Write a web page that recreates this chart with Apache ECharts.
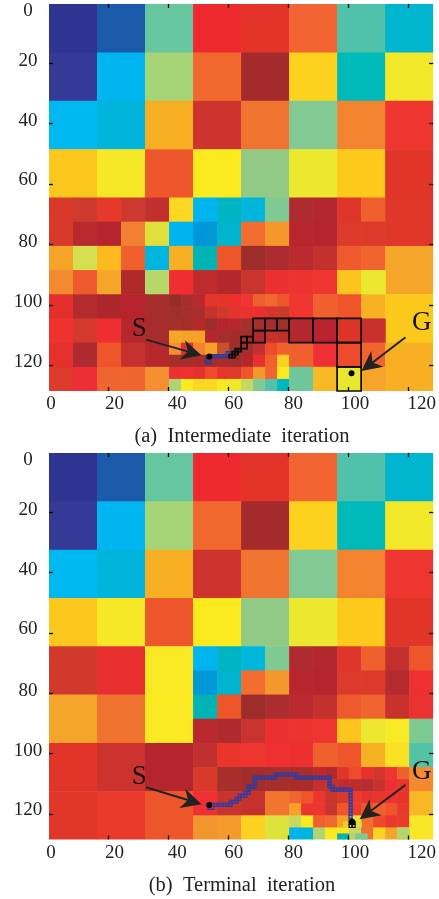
<!DOCTYPE html>
<html><head><meta charset="utf-8">
<style>html,body{margin:0;padding:0;background:#fff}#c{width:439px;height:899px}</style>
<script src="https://cdn.jsdelivr.net/npm/echarts@6/dist/echarts.min.js"></script>
</head><body><div id="c"></div>
<script>
const tickLabels = ['0','20','40','60','80','100','120'];
const tickValues = [20,40,60,80,100,120];
const xLabelAnchors = [1.16,22.35,43.2,62.1,81.96,102.5,124.7];
const yLabelAnchors = [2.8,19.4,39.1,58.8,79.2,99.1,118.9];
const captions = ['(a)  Intermediate  iteration','(b)  Terminal  iteration'];

// shared coarse rows: [y, size, startX, colours]
const rowsShared = [
 [0,16,0,['#2f3392','#1b5aa8','#65c6a0','#ee2a2e','#e43329','#f26532','#50c2aa','#00b5cd']],
 [16,16,0,['#353a97','#00b5f0','#a6d578','#f1682f','#a52a2b','#fdd21c','#00b9b9','#f2e82a']],
 [32,16,0,['#00b8f0','#00b4dc','#f6ae23','#cd342d','#f17330','#82c993','#f3832f','#ee3630']],
 [48,16,0,['#fcc71c','#f6e826','#ee572b','#fcea21','#91c985','#ebe82f','#fdc91b','#e2352a']]
];
const rowsA = [
 [64,8,0,['#d9392b','#cf3a2e','#e53a2a','#cc3a2f','#c1302f','#fbd722','#00b5ef','#00b5c3','#00b6da','#7fca93','#ae2b2f','#b4272e','#e0352a','#f0602f']],
 [64,16,112,['#e1372a']],
 [72,8,0,['#d73a2b','#b82a2e','#b5252d','#f28030','#e0e03c','#00b5ef','#0097d7','#00b4cd','#f26d2f','#f4982d','#b8262e','#b4252d','#dc3a2b','#dc3a2b']],
 [80,8,0,['#f5a329','#d5df50','#fbba1e','#f0602e','#00b4e0','#f6ae23','#00b3b4','#ee552b','#9c2d2b','#ad2c2f','#ba2a2f','#c3302e','#ee5a2d','#f0652f']],
 [80,16,112,['#f6a52b']],
 [88,8,0,['#f38a30','#ee5a2d','#f5a52a','#b02a2c','#b8d76a','#ee2e30','#bf2a2f','#b4272d','#c9332d','#ea3030','#eb3330','#ee3530','#fcc41c','#ece82f']],
 [96,8,0,['#e4302d','#b42b2f','#ad262c','#b5242d','#a62d2b']],
 [96,4,40,['#962d28','#a72e2b','#b8282e','#e4352b','#e5352b','#ec302f','#ee3530','#f0602e','#f2682f','#ee552b']],
 [100,4,40,['#a02e2a','#a62e2b','#ad2c2e','#c6322d','#d2382b','#e6332c','#ea312f','#ea302f','#d8342d','#c93a2d']],
 [96,8,80,['#ee3530','#f0602e','#ee552b','#f7b224']],
 [96,16,112,['#fbc81c']],
 [104,8,0,['#ee3230','#d5382c','#ee2e30','#b5262d','#a62d2b']],
 [104,4,40,['#a62f2b','#a32d2b','#b5282d','#9c2d2a','#b6252d','#b7282d','#a62e2b','#a62e2b','#a52e2b','#a02e2b']],
 [108,4,40,['#f5a828','#f5a228','#f4a12a','#b6262e','#a52d2b','#a12e2a','#a52e2b','#b0292d','#c8302e','#c0302e']],
 [104,8,80,['#b4272e','#b8232f','#dc3428','#c8302b']],
 [112,8,0,['#e5302d','#ad2a30','#ee552b','#c4312e','#b5292d']],
 [112,4,40,['#f38f30','#e0302c','#f3842f','#f6a02a','#c8502a','#a02e2b','#a52e2b','#c0302e','#ee4a2b','#f0602f']],
 [116,4,40,['#a22f2a','#a62d2b','#a82c2b','#a02d2b','#a62d2b','#a32d2a','#b3282d','#ea302f','#f0602e','#fbd022']],
 [112,8,80,['#f0602f','#ee3035','#ee4a2b','#f0652f']],
 [112,16,112,['#f7b024']],
 [120,8,0,['#dc3a2b','#ee2e35','#f0652f','#f0652f','#f38f30']],
 [120,4,40,['#ea3030','#ee3030','#e8302e','#ee4a2b','#e8352b','#dc3a2b','#ee552b','#f4982d','#f0652f','#fbe920']],
 [124,4,40,['#afd572','#fbea22','#fad923','#fad923','#f8e924','#f2e82a','#c5d960','#82c993','#4fc2a9','#00b6c0']],
 [120,8,80,['#6ec69a','#f7b825','#e9e62e','#f6a52a']]
];
const rowsB = [
 [64,16,0,['#d0392c','#e83030','#f8e924']],
 [64,8,48,['#00b5ef','#00b5c3','#00b6da','#7fca93','#ae2b2f','#b4272e','#e0352a','#f0602f','#c4302e','#ee552b']],
 [72,8,48,['#0097d7','#00b4cd','#f26d2f','#f4982d','#b8262e','#b4252d','#dc3a2b','#dc3a2b','#b32b2f','#ee3030']],
 [80,16,0,['#f6a52b','#ef732f','#fbea22']],
 [80,8,48,['#00b3b4','#ee552b','#9c2d2b','#ad2c2f','#ba2a2f','#c3302e','#ee5a2d','#f0652f','#c9312e','#ea3231']],
 [88,8,48,['#b8292f','#ae2a2e','#c9332d','#ea3030','#eb3330','#ee3530','#fcc41c','#ece82f','#f8ea25','#7dca93']],
 [96,16,0,['#e2352a','#cc322e','#b4252d']],
 [96,8,48,['#c0302e','#ea352d','#ee3530','#ee3030','#ec3030','#f0602e','#ee552b','#f7b224','#fbe124','#52c3a7']],
 [104,8,48,['#d9392b','#a62e2b','#a02e2b','#a62e2b','#a82d2b']],
 [104,4,88,['#c0262d','#b4272d','#e0352c','#ee4a2b','#e8302e','#d2352d','#ee3530','#f0602e']],
 [108,4,88,['#c4302e','#c4302e','#bd2d2e','#bd2d2e','#b72d2f','#c6332e','#ee2e30','#e6352b']],
 [104,8,120,['#f38a30']],
 [112,16,0,['#e1372a','#ea392b','#ee552b']],
 [112,8,48,['#ee3035','#c8332e','#c4312e','#f2752f']],
 [112,4,80,['#f0642f','#ee552b','#ee3530','#c8342e','#d9392b','#ee3a2c','#e5342c','#e6352b','#ee3030','#e7332c']],
 [116,4,80,['#f6a12b','#ee3430','#ee3530','#c8342e','#ee552b','#ee3a2c','#ee552b','#f0602f','#ee552b','#e53a2c']],
 [112,8,120,['#f7b624']],
 [120,8,48,['#f3952d','#f4992b','#fad21f','#dee33c']],
 [120,4,80,['#cbd85f','#fbe920','#f0602f','#f0682f','#f5a028','#e5e33a','#f2702f','#ee4a2b','#e83a2c','#ea3a2b']],
 [124,4,80,['#00b5ef','#00b5d8','#afd572','#fbe920','#fbe920','#c5d960','#f2702f','#fbd122','#f6a52b','#c8d85f']],
 [120,8,120,['#f9e626']],
 [122,2,98,['#e8d030','#d8e040','#d8e040']],
 [124,2,100,['#c5d960','#c5d960','#f2702f']],
 [126,2,96,['#00b3b4','#00b3b4','#b5d56c','#7fca93','#7fca93']],
 [124,4,116,['#b5d56c']]
];
// outlined cells on the search path: [x, y, size]
const blackA = [[80,104,8],[88,104,8],[96,104,8],[96,112,8],[96,120,8],[68,104,4],[72,104,4],[76,104,4],[68,108,4],[66,110,2],[64,110,2],[64,112,2],[63,114,1],[62,114,1],[62,115,1],[61,115,1],[61,116,1],[60,116,1]];
const blueA = [[52,117,2],[54,116,1],[55,116,1],[56,116,1],[57,116,1],[58,116,1],[59,115,2]];
const blackB = [[100,122,1],[101,122,1],[100,123,1],[101,123,1]];
const blueB = [[53,116,2],[55,116,1],[56,116,1],[57,116,1],[58,116,1],[59,116,1],[60,116,1],[60,115,1],[61,115,1],[62,115,1],[62,114,1],[63,114,1],[63,113,1],[64,113,1],[65,113,1],[65,112,1],[66,112,1],[66,111,1],[66,110,1],[67,110,1],[68,110,1],[68,109,1],[68,108,1],[68,107,1],[69,107,1],[70,107,1],[71,107,1],[72,107,1],[73,107,1],[74,107,1],[75,107,1],[75,106,1],[76,106,1],[77,106,1],[78,106,1],[79,106,1],[80,106,1],[81,106,1],[82,106,1],[82,107,1],[83,107,1],[84,107,1],[85,107,1],[86,107,1],[87,107,1],[88,107,1],[89,107,1],[90,107,1],[91,107,1],[92,107,1],[93,107,1],[93,108,1],[93,109,1],[93,110,1],[94,110,1],[94,111,1],[95,111,1],[96,111,1],[97,111,1],[98,111,1],[99,111,1],[100,111,1],[100,112,1],[100,113,1],[100,114,1],[100,115,1],[100,116,1],[100,117,1],[100,118,1],[100,119,1],[100,120,1],[100,121,1]];
const dotsA = [[53.9,117.1],[101.3,122.6]];
const dotsB = [[53.9,117.1],[101.5,122.6]];
const arrowsA = [[32.85,111.5,51.3,116.7],[119.3,110.7,104.6,121.9]];
const arrowsB = [[32.85,111.2,51.3,116.8],[119.3,110.4,104,121.8]];
const markTextsA = [['S',30.6,107.8],['G',124.7,106]];
const markTextsB = [['S',30.6,107.7],['G',124.7,106]];

function expand(rows){const out=[];rows.forEach(r=>r[3].forEach((c,i)=>out.push([r[2]+i*r[1],r[0],r[1],c])));return out;}
const SERIF='"Liberation Serif",serif';
const DOM=[0.5,128.5];

function cellSeries(idx,cells){
 return {type:'custom',xAxisIndex:idx*2,yAxisIndex:idx*2,z:2,silent:true,
  data:cells.map(c=>c.slice(0,3)),
  renderItem(p,api){
   const c=cells[p.dataIndex];
   const a=api.coord([c[0]+.5,c[1]+.5]),b=api.coord([c[0]+c[2]+.5,c[1]+c[2]+.5]);
   const ex=c[0]+c[2]<128?.6:0, ey=c[1]+c[2]<128?.6:0;
   return {type:'rect',shape:{x:a[0],y:a[1],width:b[0]-a[0]+ex,height:b[1]-a[1]+ey},style:{fill:c[3]}};
  }};
}
function pathSeries(idx,cells,color,w,fill){
 return {type:'custom',xAxisIndex:idx*2,yAxisIndex:idx*2,z:4,silent:true,data:cells,
  renderItem(p,api){
   const c=cells[p.dataIndex];
   const a=api.coord([c[0]+.5,c[1]+.5]),b=api.coord([c[0]+c[2]+.5,c[1]+c[2]+.5]);
   return {type:'rect',shape:{x:a[0],y:a[1],width:b[0]-a[0],height:b[1]-a[1]},style:{fill:fill||null,stroke:color,lineWidth:w}};
  }};
}
function arrowSeries(idx,arrows){
 return {type:'custom',xAxisIndex:idx*2,yAxisIndex:idx*2,z:6,silent:true,data:arrows,
  renderItem(p,api){
   const v=arrows[p.dataIndex],s=api.coord([v[0],v[1]]),t=api.coord([v[2],v[3]]);
   const L=Math.hypot(t[0]-s[0],t[1]-s[1]),ux=(t[0]-s[0])/L,uy=(t[1]-s[1])/L,nx=-uy,ny=ux;
   const pt=(d,w)=>[t[0]-ux*d+nx*w,t[1]-uy*d+ny*w];
   return {type:'group',children:[
    {type:'line',shape:{x1:s[0],y1:s[1],x2:t[0]-ux*10,y2:t[1]-uy*10},style:{stroke:'#222',lineWidth:2}},
    {type:'polygon',shape:{points:[t,pt(20,10),pt(14,0),pt(20,-10)]},style:{fill:'#222'}}
   ]};
  }};
}
function textSeries(idx,texts){
 return {type:'custom',xAxisIndex:idx*2,yAxisIndex:idx*2,z:6,silent:true,data:texts.map(t=>t.slice(1)),
  renderItem(p,api){
   const t=texts[p.dataIndex],c=api.coord([t[1],t[2]]);
   return {type:'text',x:c[0],y:c[1],style:{text:t[0],font:'27px '+SERIF,fill:'#111',align:'center',verticalAlign:'middle'}};
  }};
}
function dotSeries(idx,dots){
 return {type:'scatter',xAxisIndex:idx*2,yAxisIndex:idx*2,z:7,silent:true,symbolSize:6,itemStyle:{color:'#000',opacity:1},data:dots};
}
// inward tick marks on all four sides of each panel
function tickSeries(idx){
 return {type:'custom',xAxisIndex:idx*2,yAxisIndex:idx*2,z:8,silent:true,clip:false,data:tickValues.map(v=>[v,v]),
  renderItem(p,api){
   const v=tickValues[p.dataIndex],L=4;
   const lo=api.coord([DOM[0],DOM[0]]),hi=api.coord([DOM[1],DOM[1]]),c=api.coord([v,v]);
   const cx=Math.round(c[0])+.5,cy=Math.round(c[1])+.5;
   const st={stroke:'#000',lineWidth:1.3};
   const ln=(x1,y1,x2,y2)=>({type:'line',shape:{x1,y1,x2,y2},style:st});
   return {type:'group',children:[
    ln(cx,lo[1],cx,lo[1]+L),ln(cx,hi[1],cx,hi[1]-L),
    ln(lo[0],cy,lo[0]+L,cy),ln(hi[0],cy,hi[0]-L,cy)
   ]};
  }};
}
const nearestLabel=anchors=>v=>{let b=0;anchors.forEach((a,i)=>{if(Math.abs(a-v)<Math.abs(anchors[b]-v))b=i;});return tickLabels[b];};
function axes(i){
 const base={type:'value',min:DOM[0],max:DOM[1],gridIndex:i,splitLine:{show:false},axisLine:{show:false},axisTick:{show:false}};
 const noLab={show:false};
 const lab=(anchors,extra)=>Object.assign({show:true,customValues:anchors,formatter:nearestLabel(anchors),fontFamily:SERIF,fontSize:19,color:'#222',hideOverlap:false,showMinLabel:true,showMaxLabel:true},extra);
 return {
  x:[Object.assign({},base,{position:'bottom',axisLabel:lab(xLabelAnchors,{margin:4,align:'center'})}),Object.assign({},base,{position:'top',axisLabel:noLab})],
  y:[Object.assign({},base,{position:'left',inverse:true,axisLabel:lab(yLabelAnchors,{margin:21,align:'center',verticalAlign:'middle'})}),Object.assign({},base,{position:'right',inverse:true,axisLabel:noLab})]
 };
}
const a0=axes(0),a1=axes(1);
const shared=expand(rowsShared);
const option={
 animation:false,backgroundColor:'#fff',
 grid:[{left:49,top:4,width:387,height:387},{left:49,top:453,width:387,height:386.5}],
 xAxis:[...a0.x,...a1.x],
 yAxis:[...a0.y,...a1.y],
 title:[
  {text:captions[0],left:237,top:421,textAlign:'center',textStyle:{fontFamily:SERIF,fontSize:20.5,fontWeight:'normal',color:'#222'}},
  {text:captions[1],left:237,top:870,textAlign:'center',textStyle:{fontFamily:SERIF,fontSize:20.5,fontWeight:'normal',color:'#222'}}
 ],
 series:[
  cellSeries(0,shared.concat(expand(rowsA))),
  cellSeries(1,shared.concat(expand(rowsB))),
  pathSeries(0,blueA,'#303c9f',1.2,'rgba(48,60,159,0.5)'),
  pathSeries(0,blackA,'#0a0a0a',1.7),
  pathSeries(1,blueB,'#303c9f',1.2,'rgba(48,60,159,0.25)'),
  pathSeries(1,blackB,'#0a0a0a',1.2),
  arrowSeries(0,arrowsA),arrowSeries(1,arrowsB),
  textSeries(0,markTextsA),textSeries(1,markTextsB),
  dotSeries(0,dotsA),dotSeries(1,dotsB),
  tickSeries(0),tickSeries(1)
 ]
};
const chart=echarts.init(document.getElementById('c'),null,{renderer:'canvas'});
chart.setOption(option);
</script></body></html>
